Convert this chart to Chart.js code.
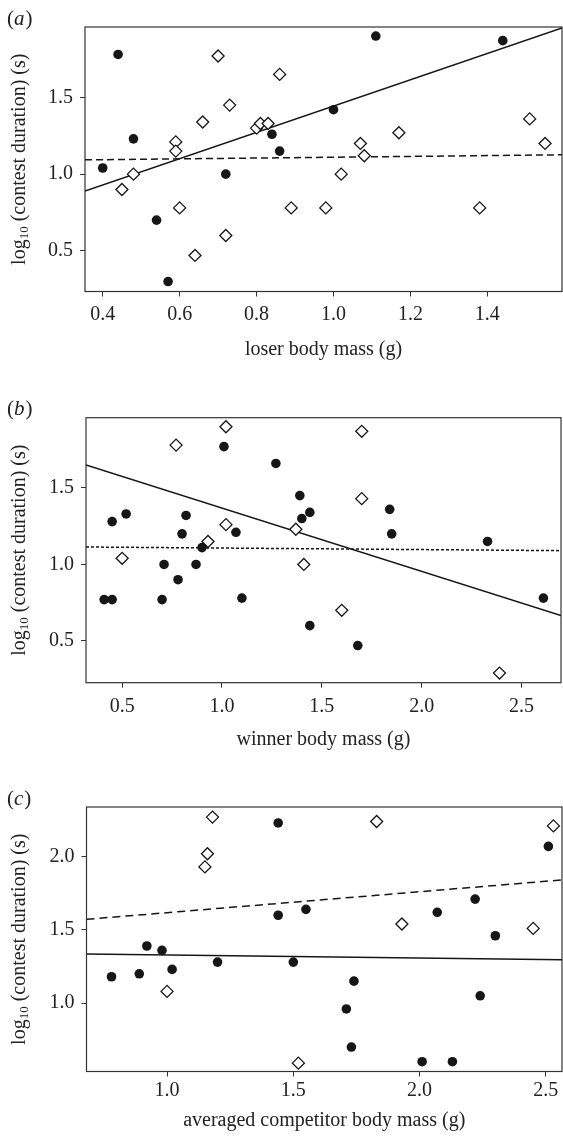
<!DOCTYPE html>
<html>
<head>
<meta charset="utf-8">
<script src="https://cdn.jsdelivr.net/npm/chart.js@4.4.0/dist/chart.umd.min.js"></script>
<style>
  html, body { margin: 0; padding: 0; background: #fff; }
  #wrap  { position: relative; width: 563px; height: 1140px; }
  canvas { position: absolute; left: 0; }
</style>
</head>
<body>
<div id="wrap">
  <canvas id="chart-a" width="563" height="375" style="top:0"></canvas>
  <canvas id="chart-b" width="563" height="380" style="top:375px"></canvas>
  <canvas id="chart-c" width="563" height="385" style="top:755px"></canvas>
</div>
<script>
// Three scatter panels: log10 contest duration against body mass.
// Filled circles and open diamonds are the two contest groups.

// ── Panel (a): loser body mass ────────────────────────────────
const aFilledX = [0.40, 0.44, 0.48, 0.54, 0.57, 0.72, 0.84, 0.86, 1.00, 1.11, 1.44];
const aFilledY = [1.04, 1.78, 1.23, 0.70, 0.30, 1.00, 1.26, 1.15, 1.42, 1.90, 1.87];
const aOpenX   = [0.45, 0.48, 0.59, 0.59, 0.60, 0.64, 0.66, 0.70, 0.72, 0.73, 0.80, 0.81,
                  0.83, 0.86, 0.89, 0.98, 1.02, 1.07, 1.08, 1.17, 1.38, 1.51, 1.55];
const aOpenY   = [0.90, 1.00, 1.21, 1.15, 0.78, 0.47, 1.34, 1.77, 0.60, 1.45, 1.30, 1.33,
                  1.33, 1.65, 0.78, 0.78, 1.00, 1.20, 1.12, 1.27, 0.78, 1.36, 1.20];
const aSolidX  = [0.354, 1.594];
const aSolidY  = [0.889, 1.952];
const aDashX   = [0.354, 1.594];
const aDashY   = [1.093, 1.126];
const aRangeX  = [0.354, 1.594];
const aRangeY  = [0.235, 1.959];
const aTicksX  = [0.4, 0.6, 0.8, 1.0, 1.2, 1.4];
const aTicksY  = [0.5, 1.0, 1.5];

// ── Panel (b): winner body mass ───────────────────────────────
const bFilledX = [0.41, 0.45, 0.45, 0.52, 0.70, 0.71, 0.78, 0.80, 0.82, 0.87, 0.90, 1.01,
                  1.07, 1.10, 1.27, 1.39, 1.40, 1.44, 1.44, 1.68, 1.84, 1.85, 2.33, 2.61];
const bFilledY = [0.77, 0.77, 1.28, 1.33, 0.77, 1.00, 0.90, 1.20, 1.32, 1.00, 1.11, 1.77,
                  1.21, 0.78, 1.66, 1.45, 1.30, 1.34, 0.60, 0.47, 1.36, 1.20, 1.15, 0.78];
const bOpenX   = [0.50, 0.77, 0.93, 1.02, 1.02, 1.37, 1.41, 1.60, 1.70, 1.70, 2.39];
const bOpenY   = [1.04, 1.78, 1.15, 1.90, 1.26, 1.23, 1.00, 0.70, 1.87, 1.43, 0.29];
const bSolidX  = [0.319, 2.698];
const bSolidY  = [1.650, 0.666];
const bDotX    = [0.319, 2.698];
const bDotY    = [1.114, 1.090];
const bRangeX  = [0.319, 2.698];
const bRangeY  = [0.227, 1.959];
const bTicksX  = [0.5, 1.0, 1.5, 2.0, 2.5];
const bTicksY  = [0.5, 1.0, 1.5];

// ── Panel (c): averaged competitor body mass ──────────────────
const cFilledX = [0.78, 0.89, 0.92, 0.98, 1.02, 1.20, 1.44, 1.44, 1.55, 1.50, 1.71, 1.74,
                  1.73, 2.01, 2.07, 2.13, 2.22, 2.24, 2.30, 2.51];
const cFilledY = [1.18, 1.20, 1.39, 1.36, 1.23, 1.28, 2.23, 1.60, 1.64, 1.28, 0.96, 1.15,
                  0.70, 0.60, 1.62, 0.60, 1.71, 1.05, 1.46, 2.07];
const cOpenX   = [1.00, 1.15, 1.16, 1.18, 1.52, 1.83, 1.93, 2.45, 2.53];
const cOpenY   = [1.08, 1.93, 2.02, 2.27, 0.59, 2.24, 1.54, 1.51, 2.21];
const cSolidX  = [0.681, 2.564];
const cSolidY  = [1.335, 1.296];
const cDashX   = [0.681, 2.564];
const cDashY   = [1.572, 1.841];
const cRangeX  = [0.681, 2.564];
const cRangeY  = [0.533, 2.339];
const cTicksX  = [1.0, 1.5, 2.0, 2.5];
const cTicksY  = [1.0, 1.5, 2.0];

// ── Chart.js global defaults ──────────────────────────────────
const SERIF = "'Liberation Serif', 'Times New Roman', serif";
Chart.defaults.font.family = SERIF;
Chart.defaults.font.size   = 20;
Chart.defaults.color       = '#222';

const INK = '#161616';
const pts = (xs, ys) => xs.map((x, i) => ({ x, y: ys[i] }));

// Box round the plot, rotated y title with subscript, panel letter
const framePlugin = {
  id: 'frame',
  beforeDatasetsDraw(chart) {
    const { ctx, chartArea: a } = chart;
    ctx.save();
    ctx.strokeStyle = '#333';
    ctx.lineWidth   = 1.2;
    ctx.strokeRect(a.left, a.top, a.right - a.left, a.bottom - a.top);
    ctx.restore();
  },
  afterDraw(chart, args, opts) {
    const { ctx, chartArea: a } = chart;
    ctx.save();
    ctx.fillStyle = '#222';

    // y title: log10 (contest duration) (s)
    const main = '20px ' + SERIF;
    const sub  = '13px ' + SERIF;
    const rest = ' (contest duration) (s)';
    ctx.font = main;
    const wLog  = ctx.measureText('log').width;
    const wRest = ctx.measureText(rest).width;
    ctx.font = sub;
    const wSub = ctx.measureText('10').width;
    const total = wLog + wSub + wRest;
    ctx.translate(20, (a.top + a.bottom) / 2);
    ctx.rotate(-Math.PI / 2);
    ctx.textBaseline = 'middle';
    ctx.textAlign    = 'left';
    let x = -total / 2;
    ctx.font = main; ctx.fillText('log', x, 0); x += wLog;
    ctx.font = sub;  ctx.fillText('10', x, 5);  x += wSub;
    ctx.font = main; ctx.fillText(rest, x, 0);
    ctx.setTransform(1, 0, 0, 1, 0, 0);

    // panel letter, e.g. (a)
    const up = '21px ' + SERIF;
    const it = 'italic 21px ' + SERIF;
    let lx = 7;
    ctx.textBaseline = 'middle';
    ctx.font = up; ctx.fillText('(', lx, opts.letterY); lx += ctx.measureText('(').width;
    ctx.font = it; ctx.fillText(opts.letter, lx, opts.letterY); lx += ctx.measureText(opts.letter).width + 1;
    ctx.font = up; ctx.fillText(')', lx, opts.letterY);
    ctx.restore();
  }
};

function makePanel(id, p) {
  const H = document.getElementById(id).height;
  return new Chart(document.getElementById(id).getContext('2d'), {
    type: 'scatter',
    data: {
      datasets: [
        {
          data:            p.filled,
          pointStyle:      'circle',
          pointRadius:     4.8,
          backgroundColor: INK,
          borderWidth:     0
        },
        {
          data:            p.open,
          pointStyle:      'rectRot',
          pointRadius:     6,
          backgroundColor: '#fff',
          borderColor:     INK,
          borderWidth:     1.3
        },
        {
          data:        p.solid,
          showLine:    true,
          pointRadius: 0,
          borderColor: INK,
          borderWidth: 1.5
        },
        {
          data:        p.dashed,
          showLine:    true,
          pointRadius: 0,
          borderColor: INK,
          borderWidth: 1.5,
          borderDash:  p.dash
        }
      ]
    },
    options: {
      responsive: false,
      animation:  false,
      events:     [],
      layout:     { autoPadding: false, padding: { top: p.top, right: p.right, left: 0, bottom: 0 } },
      plugins: {
        legend:  { display: false },
        tooltip: { enabled: false },
        frame:   { letter: p.letter, letterY: p.letterY }
      },
      scales: {
        x: {
          type: 'linear',
          min:  p.rangeX[0],
          max:  p.rangeX[1],
          afterBuildTicks: s => { s.ticks = p.ticksX.map(v => ({ value: v })); },
          afterFit:        s => { s.height = H - p.bottom; },
          grid:   { drawOnChartArea: false, tickLength: 5, tickColor: '#333', tickWidth: 1 },
          border: { display: false },
          ticks:  { padding: p.xPad, maxRotation: 0, autoSkip: false, callback: v => Number(v).toFixed(1) },
          title:  { display: true, text: p.xTitle, font: { size: 20 }, padding: { top: 0, bottom: p.titlePad } }
        },
        y: {
          type: 'linear',
          min:  p.rangeY[0],
          max:  p.rangeY[1],
          afterBuildTicks: s => { s.ticks = p.ticksY.map(v => ({ value: v })); },
          afterFit:        s => { s.width = p.left; },
          grid:   { drawOnChartArea: false, tickLength: 5, tickColor: '#333', tickWidth: 1 },
          border: { display: false },
          ticks:  { padding: 7, autoSkip: false, callback: v => Number(v).toFixed(1) }
        }
      }
    },
    plugins: [framePlugin]
  });
}

makePanel('chart-a', {
  filled: pts(aFilledX, aFilledY), open: pts(aOpenX, aOpenY),
  solid:  pts(aSolidX, aSolidY),   dashed: pts(aDashX, aDashY), dash: [7, 4],
  rangeX: aRangeX, rangeY: aRangeY, ticksX: aTicksX, ticksY: aTicksY,
  xTitle: 'loser body mass (g)', letter: 'a', letterY: 19,
  top: 27, right: 1, left: 85, bottom: 291.5, xPad: 6, titlePad: 13
});

makePanel('chart-b', {
  filled: pts(bFilledX, bFilledY), open: pts(bOpenX, bOpenY),
  solid:  pts(bSolidX, bSolidY),   dashed: pts(bDotX, bDotY), dash: [3, 2],
  rangeX: bRangeX, rangeY: bRangeY, ticksX: bTicksX, ticksY: bTicksY,
  xTitle: 'winner body mass (g)', letter: 'b', letterY: 34,
  top: 42.7, right: 2, left: 86, bottom: 307.7, xPad: 7, titlePad: 3
});

makePanel('chart-c', {
  filled: pts(cFilledX, cFilledY), open: pts(cOpenX, cOpenY),
  solid:  pts(cSolidX, cSolidY),   dashed: pts(cDashX, cDashY), dash: [8, 5],
  rangeX: cRangeX, rangeY: cRangeY, ticksX: cTicksX, ticksY: cTicksY,
  xTitle: 'averaged competitor body mass (g)', letter: 'c', letterY: 44,
  top: 52, right: 1, left: 86.5, bottom: 316.5, xPad: 2, titlePad: 7
});
</script>
</body>
</html>
